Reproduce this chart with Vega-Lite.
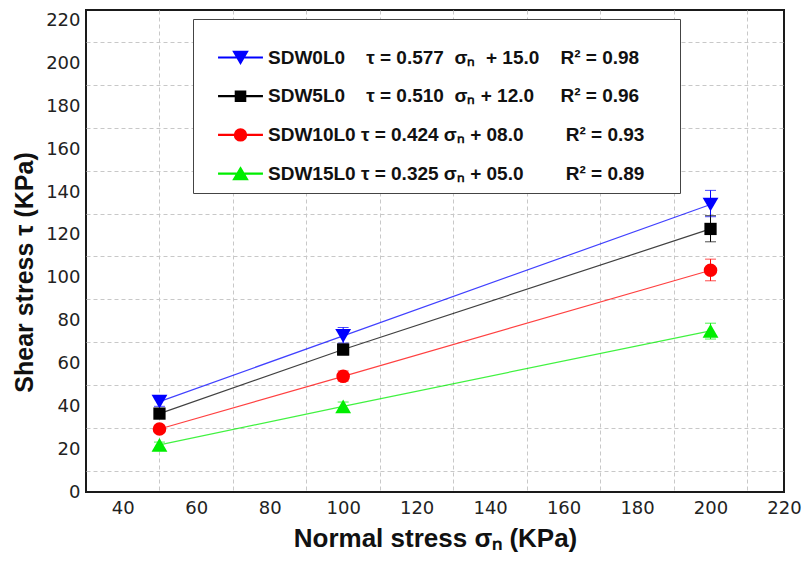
{
  "$schema": "https://vega.github.io/schema/vega-lite/v6.json",
  "width": 698,
  "height": 482,
  "autosize": {"type": "none"},
  "padding": {"left": 86, "top": 10, "right": 21, "bottom": 72},
  "background": "white",
  "config": {
    "view": {"stroke": "#1a1a1a", "strokeWidth": 2},
    "font": "Liberation Sans",
    "legend": {
      "orient": "none",
      "legendX": 107,
      "legendY": 9,
      "direction": "vertical",
      "titleFontSize": 10,
      "titlePadding": 10,
      "padding": 9,
      "strokeColor": "#444",
      "fillColor": "white",
      "cornerRadius": 0,
      "symbolSize": 196,
      "symbolOpacity": 1,
      "symbolOffset": 29,
      "labelOffset": 18,
      "rowPadding": 18.7,
      "labelFont": "Liberation Sans",
      "labelFontSize": 19,
      "labelFontWeight": "bold",
      "labelColor": "#111",
      "labelLimit": 600
    }
  },
  "data": {
    "values": [
      {"series": "SDW0L0", "sigma": 50, "tau": 42.2, "lo": 40.0, "hi": 44.5},
      {"series": "SDW0L0", "sigma": 100, "tau": 72.9, "lo": 69.5, "hi": 76.8},
      {"series": "SDW0L0", "sigma": 200, "tau": 134.2, "lo": 128.5, "hi": 140.8},
      {"series": "SDW5L0", "sigma": 50, "tau": 36.6, "lo": 35.2, "hi": 38.0},
      {"series": "SDW5L0", "sigma": 100, "tau": 66.5, "lo": 64.0, "hi": 69.0},
      {"series": "SDW5L0", "sigma": 200, "tau": 122.8, "lo": 116.8, "hi": 129.0},
      {"series": "SDW10L0", "sigma": 50, "tau": 29.4, "lo": 28.4, "hi": 30.4},
      {"series": "SDW10L0", "sigma": 100, "tau": 54.0, "lo": 51.8, "hi": 56.5},
      {"series": "SDW10L0", "sigma": 200, "tau": 103.5, "lo": 98.6, "hi": 108.7},
      {"series": "SDW15L0", "sigma": 50, "tau": 22.0, "lo": 20.5, "hi": 23.3},
      {"series": "SDW15L0", "sigma": 100, "tau": 40.0, "lo": 38.0, "hi": 42.0},
      {"series": "SDW15L0", "sigma": 200, "tau": 75.2, "lo": 71.4, "hi": 78.8}
    ]
  },
  "encoding": {
    "x": {
      "field": "sigma", "type": "quantitative",
      "scale": {"domain": [30, 220], "nice": false, "zero": false},
      "axis": {
        "values": [40, 50, 60, 70, 80, 90, 100, 110, 120, 130, 140, 150, 160, 170, 180, 190, 200, 210, 220],
        "labelExpr": "datum.value % 20 === 0 ? datum.label : ''",
        "grid": true,
        "gridDash": [4, 3],
        "gridColor": "#c8c8c8",
        "gridOpacity": {"condition": {"test": "datum.value % 20 === 10", "value": 1}, "value": 0},
        "ticks": false,
        "domain": false,
        "labelFont": "DejaVu Sans",
        "labelFontSize": 18,
        "labelColor": "#222",
        "labelPadding": 7,
        "labelFlush": false,
        "labelOverlap": false,
        "title": "Normal stress σₙ (KPa)",
        "titleFont": "Liberation Sans",
        "titleFontSize": 26,
        "titleFontWeight": "bold",
        "titleColor": "#111",
        "titlePadding": 8
      }
    },
    "y": {
      "field": "tau", "type": "quantitative",
      "scale": {"domain": [0, 225], "nice": false, "zero": true},
      "axis": {
        "values": [0, 10, 20, 30, 40, 50, 60, 70, 80, 90, 100, 110, 120, 130, 140, 150, 160, 170, 180, 190, 200, 210, 220],
        "labelExpr": "datum.value % 20 === 0 ? datum.label : ''",
        "grid": true,
        "gridDash": [4, 3],
        "gridColor": "#c8c8c8",
        "gridOpacity": {"condition": {"test": "datum.value % 20 === 10", "value": 1}, "value": 0},
        "ticks": false,
        "domain": false,
        "labelFont": "DejaVu Sans",
        "labelFontSize": 18,
        "labelColor": "#222",
        "labelPadding": 6,
        "labelFlush": false,
        "labelOverlap": false,
        "title": "Shear stress τ  (KPa)",
        "titleFont": "Liberation Sans",
        "titleFontSize": 25,
        "titleFontWeight": "bold",
        "titleColor": "#111",
        "titlePadding": 8,
        "titleY": 262
      }
    },
    "color": {
      "field": "series", "type": "nominal",
      "scale": {
        "domain": ["SDW0L0", "SDW5L0", "SDW10L0", "SDW15L0"],
        "range": ["#0000ff", "#000000", "#ff0000", "#00ee00"]
      },
      "legend": {
        "title": " ",
        "labelExpr": "datum.label === 'SDW0L0' ? 'SDW0L0\u00a0\u00a0\u00a0\u00a0τ = 0.577\u00a0\u00a0σₙ\u00a0\u00a0+ 15.0\u00a0\u00a0\u00a0\u00a0R² = 0.98' : datum.label === 'SDW5L0' ? 'SDW5L0\u00a0\u00a0\u00a0\u00a0τ = 0.510\u00a0\u00a0σₙ\u00a0+ 12.0\u00a0\u00a0\u00a0\u00a0\u00a0R² = 0.96' : datum.label === 'SDW10L0' ? 'SDW10L0\u00a0τ = 0.424\u00a0σₙ\u00a0+ 08.0\u00a0\u00a0\u00a0\u00a0\u00a0\u00a0\u00a0\u00a0R² = 0.93\u00a0\u00a0\u00a0\u00a0\u00a0\u200b' : 'SDW15L0\u00a0τ = 0.325\u00a0σₙ\u00a0+ 05.0\u00a0\u00a0\u00a0\u00a0\u00a0\u00a0\u00a0\u00a0R² = 0.89\u00a0\u00a0\u00a0\u00a0\u00a0\u200b'"
      }
    }
  },
  "layer": [
    {
      "mark": {"type": "rule", "strokeWidth": 1},
      "encoding": {"y": {"field": "lo", "type": "quantitative"}, "y2": {"field": "hi"}}
    },
    {
      "mark": {"type": "tick", "orient": "horizontal", "size": 11, "thickness": 1},
      "encoding": {"y": {"field": "lo", "type": "quantitative"}}
    },
    {
      "mark": {"type": "tick", "orient": "horizontal", "size": 11, "thickness": 1},
      "encoding": {"y": {"field": "hi", "type": "quantitative"}}
    },
    {
      "mark": {"type": "line", "strokeWidth": 1.2, "opacity": 0.75},
      "encoding": {"order": {"field": "sigma"}}
    },
    {
      "transform": [{"filter": "datum.series === 'SDW0L0'"}],
      "mark": {"type": "point", "filled": true, "opacity": 1, "shape": "triangle-down", "size": 250}
    },
    {
      "transform": [{"filter": "datum.series === 'SDW5L0'"}],
      "mark": {"type": "point", "filled": true, "opacity": 1, "shape": "square", "size": 150}
    },
    {
      "transform": [{"filter": "datum.series === 'SDW10L0'"}],
      "mark": {"type": "point", "filled": true, "opacity": 1, "shape": "circle", "size": 185}
    },
    {
      "transform": [{"filter": "datum.series === 'SDW15L0'"}],
      "mark": {"type": "point", "filled": true, "opacity": 1, "shape": "triangle-up", "size": 250}
    },
    {
      "mark": {"type": "point", "filled": true, "opacity": 0},
      "encoding": {
        "shape": {
          "field": "series", "type": "nominal",
          "scale": {
            "domain": ["SDW0L0", "SDW5L0", "SDW10L0", "SDW15L0"],
            "range": [
              "M-3.1,-0.05H3.1V0.05H-3.1Z M-1,-0.85L1,-0.85L0,0.85Z",
              "M-3.1,-0.05H3.1V0.05H-3.1Z M-0.72,-0.72H0.72V0.72H-0.72Z",
              "M-3.1,-0.05H3.1V0.05H-3.1Z M0.85,0A0.85,0.85,0,1,1,-0.85,0A0.85,0.85,0,1,1,0.85,0Z",
              "M-3.1,-0.05H3.1V0.05H-3.1Z M0,-0.85L1,0.85L-1,0.85Z"
            ]
          },
          "legend": {
            "title": " ",
            "labelExpr": "datum.label === 'SDW0L0' ? 'SDW0L0\u00a0\u00a0\u00a0\u00a0τ = 0.577\u00a0\u00a0σₙ\u00a0\u00a0+ 15.0\u00a0\u00a0\u00a0\u00a0R² = 0.98' : datum.label === 'SDW5L0' ? 'SDW5L0\u00a0\u00a0\u00a0\u00a0τ = 0.510\u00a0\u00a0σₙ\u00a0+ 12.0\u00a0\u00a0\u00a0\u00a0\u00a0R² = 0.96' : datum.label === 'SDW10L0' ? 'SDW10L0\u00a0τ = 0.424\u00a0σₙ\u00a0+ 08.0\u00a0\u00a0\u00a0\u00a0\u00a0\u00a0\u00a0\u00a0R² = 0.93\u00a0\u00a0\u00a0\u00a0\u00a0\u200b' : 'SDW15L0\u00a0τ = 0.325\u00a0σₙ\u00a0+ 05.0\u00a0\u00a0\u00a0\u00a0\u00a0\u00a0\u00a0\u00a0R² = 0.89\u00a0\u00a0\u00a0\u00a0\u00a0\u200b'"
          }
        }
      }
    }
  ]
}
